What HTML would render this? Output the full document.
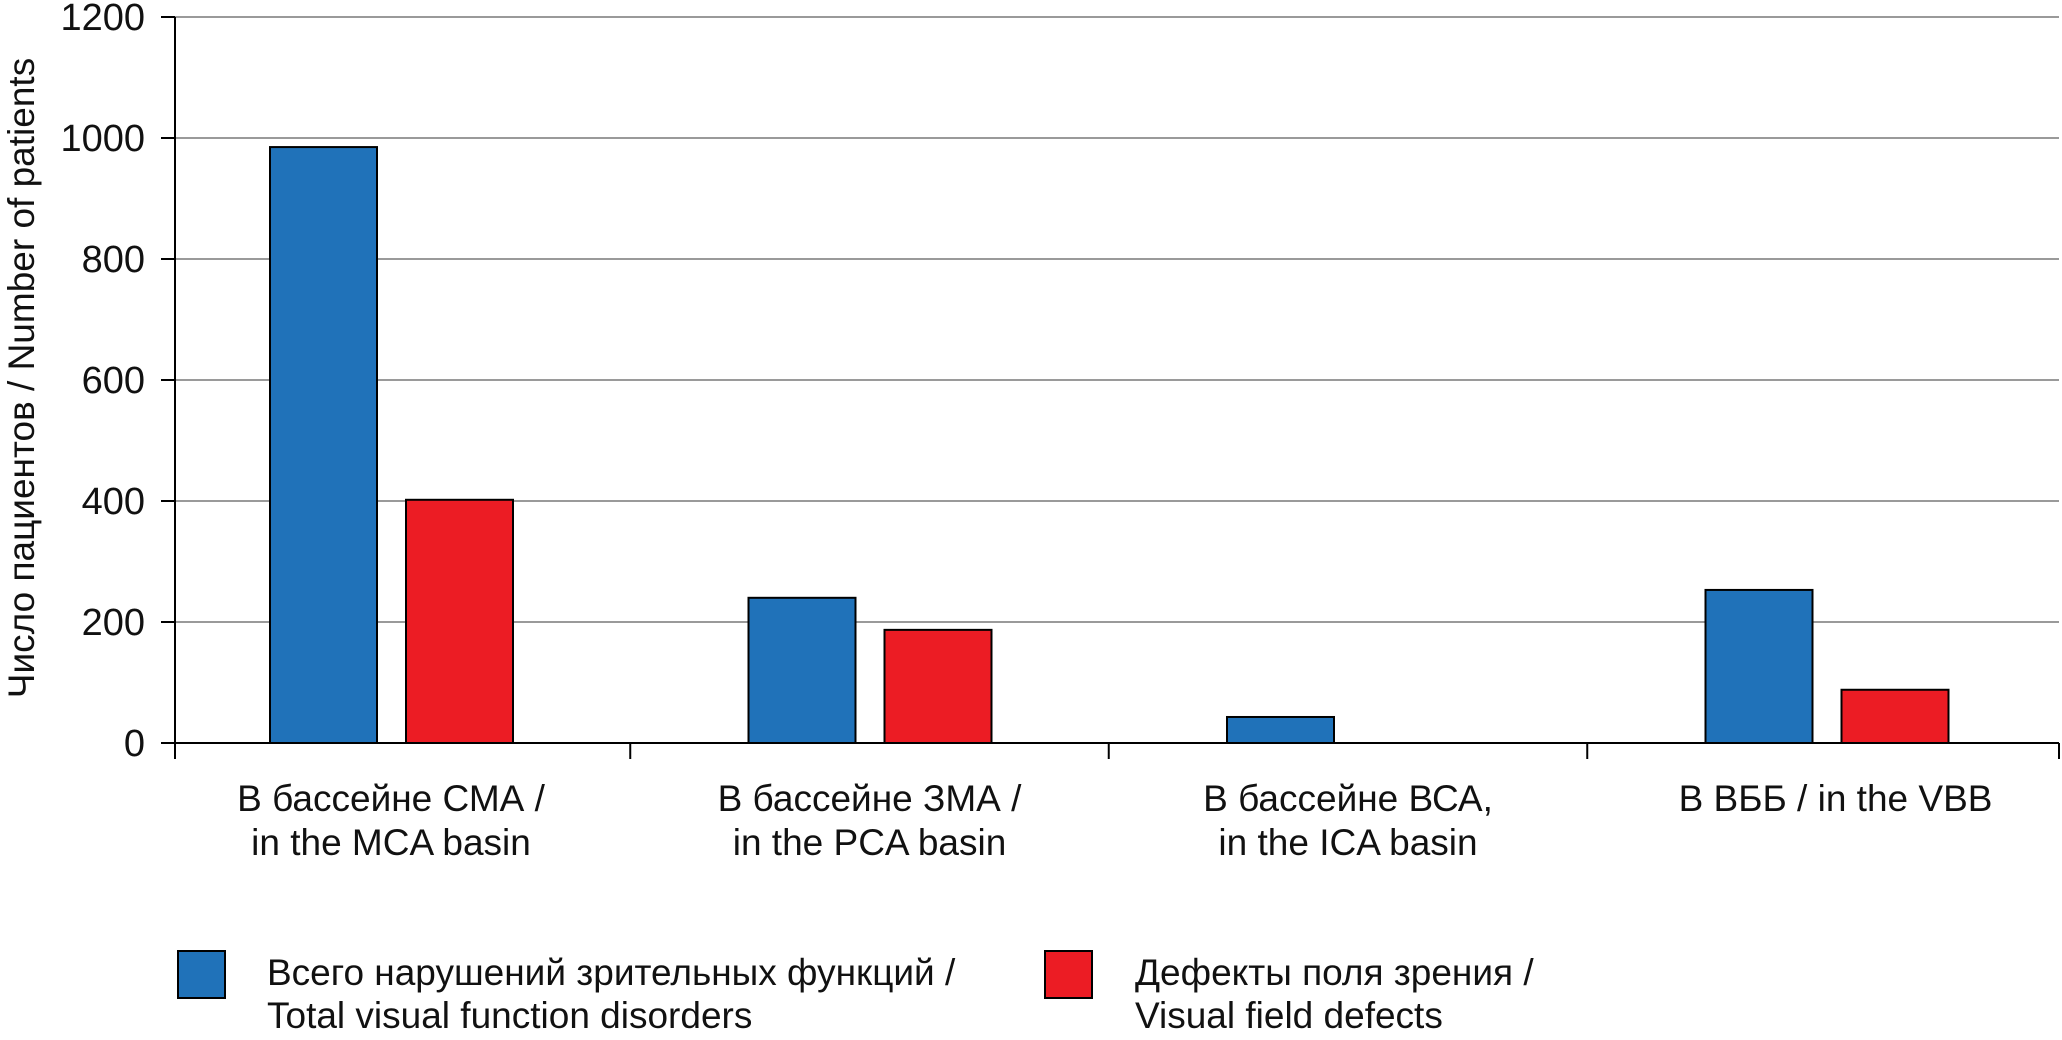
<!DOCTYPE html>
<html><head><meta charset="utf-8"><style>
body{margin:0;background:#fff}
svg{display:block;font-family:"Liberation Sans",sans-serif}
</style></head><body>
<svg id="c" width="2062" height="1040"></svg>
<script>
const categories=[["В бассейне СМА /","in the MCA basin"],["В бассейне ЗМА /","in the PCA basin"],["В бассейне ВСА,","in the ICA basin"],["В ВББ / in the VBB",""]];
const totalValues=[985,240,43,253];
const fieldValues=[402,187,0,88];
const yTicks=[0,200,400,600,800,1000,1200];
const NS="http://www.w3.org/2000/svg";
const svg=document.getElementById('c');
const x0=175,x1=2059,y0=743,y1=17,yMax=1200;
const y=v=>y0-(v/yMax)*(y0-y1);
const cx=i=>391+i*478.5;
function el(t,a,txt){const e=document.createElementNS(NS,t);for(const k in a)e.setAttribute(k,a[k]);if(txt!==undefined)e.textContent=txt;svg.appendChild(e);return e;}
yTicks.forEach(v=>{
  if(v>0){const g=el('line',{x1:x0,x2:x1,y1:y(v),y2:y(v),stroke:'#9a9a9a','stroke-width':2});
  
  }
  const tk=el('line',{x1:x0-14,x2:x0,y1:y(v),y2:y(v),stroke:'#000','stroke-width':2});
  
  
  const t=el('text',{x:x0-30,y:y(v)+13,'font-size':38,'text-anchor':'end',fill:'#111'},v);
  
  
});
const ya=el('line',{x1:x0,x2:x0,y1:y1,y2:y0+16,stroke:'#000','stroke-width':2});


const xa=el('line',{x1:x0,x2:x1,y1:y0,y2:y0,stroke:'#000','stroke-width':2});


for(let i=1;i<=categories.length;i++){
  const xx=i<categories.length?(cx(i-1)+cx(i))/2:x1;
  const tk=el('line',{x1:xx,x2:xx,y1:y0,y2:y0+16,stroke:'#000','stroke-width':2});
  
  
}
categories.forEach((c,i)=>{
  const b=el('rect',{x:cx(i)-121,y:y(totalValues[i]),width:107,height:y0-y(totalValues[i]),fill:'#2072b9',stroke:'#000','stroke-width':2});
  
  
  if(fieldValues[i]>0){
  const r=el('rect',{x:cx(i)+15,y:y(fieldValues[i]),width:107,height:y0-y(fieldValues[i]),fill:'#ec1c24',stroke:'#000','stroke-width':2});
  
  }
  c.forEach((ln,j)=>{ if(!ln)return;
    const t=el('text',{x:cx(i)+(i===3?9:0),y:811+j*44,'font-size':37,'text-anchor':'middle',fill:'#111'},ln);
    
    
  });
});
const yt=el('text',{x:0,y:0,'font-size':37,'text-anchor':'middle',fill:'#111',transform:'translate(34,378) rotate(-90)'},'Число пациентов / Number of patients');


const leg=[[178,267,'#2072b9','Всего нарушений зрительных функций /','Total visual function disorders'],[1045,1135,'#ec1c24','Дефекты поля зрения /','Visual field defects']];
leg.forEach((l,i)=>{
  const s=el('rect',{x:l[0],y:951,width:47,height:47,fill:l[2],stroke:'#000','stroke-width':2});
  
  
  const t1=el('text',{x:l[1],y:985,'font-size':37,fill:'#111'},l[3]);
  
  
  const t2=el('text',{x:l[1],y:1028,'font-size':37,fill:'#111'},l[4]);
  
  
});
</script>
</body></html>
